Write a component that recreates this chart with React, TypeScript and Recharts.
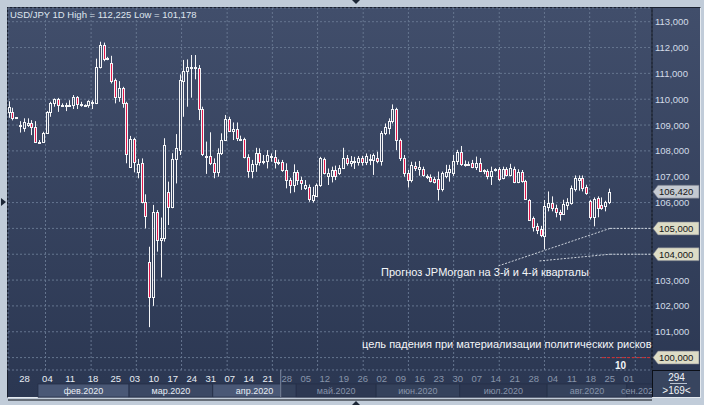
import {
  Bar,
  CartesianGrid,
  ComposedChart,
  ReferenceArea,
  ReferenceLine,
  XAxis,
  YAxis,
} from "recharts";

// daily candles, USD/JPY (index 1 = first visible bar)
const OPEN = [
  109.5, 109.49, 109.29, 108.95, 108.89, 109.02, 109.09, 108.91, 108.35, 108.36,
  108.71, 109.49, 109.84, 110.0, 109.78, 109.77, 109.77, 109.78, 110.09, 109.76,
  109.78, 109.78, 109.9, 109.84, 111.23, 112.09, 111.57, 111.42, 110.74, 110.1,
  110.42, 109.84, 107.36, 108.45, 107.2, 107.52, 106.01, 103.71, 102.36, 105.62,
  104.56, 104.64, 106.42, 105.84, 107.69, 108.03, 110.7, 111.1, 111.22, 111.24,
  111.19, 109.61, 107.77, 107.8, 107.52, 107.17, 107.91, 108.42, 109.23, 108.77,
  108.85, 108.46, 108.45, 107.77, 107.22, 107.48, 107.93, 107.58, 107.61, 107.79,
  107.75, 107.56, 107.56, 107.26, 106.87, 106.68, 107.17, 106.87, 106.58, 106.61,
  106.1, 106.27, 106.68, 107.68, 107.04, 107.04, 107.25, 107.13, 107.35, 107.71,
  107.52, 107.6, 107.58, 107.71, 107.58, 107.69, 107.65, 107.74, 107.61, 108.7,
  108.9, 109.15, 109.62, 108.42, 107.74, 107.13, 106.87, 107.43, 107.3, 107.3,
  107.01, 107.0, 106.91, 106.9, 106.52, 107.03, 107.2, 107.14, 107.59, 107.95,
  107.5, 107.51, 107.52, 107.37, 107.52, 107.24, 107.24, 107.03, 107.28, 107.29,
  106.97, 107.29, 107.07, 107.29, 106.81, 107.2, 106.85, 106.08, 105.4, 105.1,
  104.97, 104.71, 105.81, 105.98, 105.79, 105.63, 105.56, 105.92, 106.0, 106.54,
  106.86, 106.95, 106.59, 106.07, 105.43, 106.17, 105.89, 105.85, 106.02,
];
const HIGH = [
  109.92, 109.67, 109.31, 109.15, 109.26, 109.26, 109.19, 109.15, 108.42, 108.74,
  109.54, 109.9, 110.03, 110.05, 109.84, 109.86, 109.96, 110.16, 110.12, 109.9,
  109.8, 109.96, 109.96, 111.57, 112.225, 112.19, 111.64, 111.68, 110.8, 110.7,
  110.48, 109.9, 108.58, 108.51, 107.69, 107.71, 106.32, 104.29, 105.91, 105.71,
  105.42, 108.49, 106.81, 107.91, 108.65, 110.96, 111.52, 111.54, 111.71, 111.71,
  111.32, 109.71, 108.36, 108.72, 107.71, 108.1, 108.68, 109.39, 109.32, 109.1,
  109.1, 108.59, 108.51, 107.87, 107.65, 108.12, 108.1, 107.84, 108.03, 107.9,
  108.03, 107.67, 107.65, 107.52, 106.96, 107.48, 107.26, 107.0, 106.87, 106.7,
  106.61, 106.74, 107.77, 107.74, 107.32, 107.39, 107.43, 107.45, 108.12, 107.84,
  107.8, 107.77, 107.8, 107.81, 107.9, 107.87, 107.9, 107.97, 108.77, 109.06,
  109.26, 109.8, 109.67, 108.48, 107.84, 107.26, 107.58, 107.58, 107.61, 107.39,
  107.09, 107.09, 107.0, 107.2, 107.2, 107.46, 107.46, 107.85, 108.04, 108.19,
  107.63, 107.59, 107.65, 107.78, 107.72, 107.29, 107.29, 107.39, 107.33, 107.37,
  107.39, 107.37, 107.5, 107.39, 107.29, 107.26, 106.88, 106.13, 105.46, 105.2,
  105.1, 106.1, 106.43, 106.24, 105.92, 105.72, 106.11, 106.17, 106.66, 107.05,
  107.05, 107.05, 106.69, 106.11, 106.2, 106.24, 106.2, 106.07, 106.54,
];
const LOW = [
  109.28, 109.18, 109.27, 108.71, 108.74, 108.93, 108.61, 108.33, 108.31, 108.31,
  108.67, 109.32, 109.71, 109.51, 109.71, 109.54, 109.71, 109.62, 109.62, 109.71,
  109.76, 109.67, 109.62, 109.81, 111.19, 111.47, 111.51, 110.61, 109.84, 109.9,
  109.67, 107.52, 107.35, 107.17, 106.94, 105.97, 105.0, 101.178, 102.0, 104.1,
  103.1, 104.49, 105.13, 105.78, 106.74, 107.84, 109.32, 109.71, 110.06, 110.77,
  109.19, 107.8, 107.11, 107.45, 106.94, 107.0, 107.84, 108.38, 108.74, 108.42,
  108.38, 108.38, 107.71, 106.96, 106.94, 107.19, 107.43, 107.48, 107.32, 107.58,
  107.32, 107.45, 107.19, 106.55, 106.36, 106.4, 106.68, 106.49, 106.49, 106.03,
  106.0, 106.23, 106.61, 107.09, 106.68, 106.78, 106.87, 107.07, 107.3, 107.43,
  107.39, 107.3, 107.43, 107.43, 107.45, 107.45, 107.07, 107.52, 107.43, 108.61,
  108.64, 109.06, 108.03, 107.61, 107.0, 106.58, 106.78, 107.22, 107.04, 107.0,
  106.91, 106.78, 106.74, 106.08, 106.43, 106.94, 106.81, 107.03, 107.46, 107.42,
  107.39, 107.42, 107.33, 107.26, 107.2, 107.1, 106.9, 106.68, 107.2, 106.84,
  106.9, 107.01, 107.01, 106.75, 106.75, 106.77, 106.1, 105.3, 104.88, 104.78,
  104.66, 104.19, 105.66, 105.66, 105.43, 105.3, 105.53, 105.72, 105.92, 106.43,
  106.46, 106.43, 106.3, 105.34, 105.08, 105.43, 105.72, 105.66, 105.94,
];
const CLOSE = [
  109.7, 109.29, 109.3, 109.02, 109.1, 109.09, 108.91, 108.35, 108.36, 108.68,
  109.49, 109.84, 110.0, 109.78, 109.79, 109.75, 109.79, 110.09, 109.8, 109.8,
  109.79, 109.93, 109.91, 111.23, 112.09, 111.57, 111.58, 110.7, 110.09, 110.42,
  109.84, 107.87, 108.45, 107.56, 107.49, 106.01, 105.49, 102.36, 105.62, 104.55,
  104.64, 108.23, 105.84, 107.69, 108.1, 110.74, 111.09, 111.23, 111.24, 111.23,
  109.61, 107.88, 107.79, 107.52, 107.17, 107.91, 108.42, 109.23, 108.77, 108.85,
  108.48, 108.44, 107.77, 107.22, 107.48, 107.93, 107.58, 107.59, 107.84, 107.77,
  107.58, 107.57, 107.26, 106.87, 106.68, 107.17, 106.87, 106.74, 106.68, 106.14,
  106.29, 106.68, 107.71, 107.13, 107.13, 107.26, 107.04, 107.35, 107.71, 107.52,
  107.6, 107.61, 107.74, 107.56, 107.8, 107.68, 107.84, 107.61, 108.7, 108.94,
  109.15, 109.64, 108.42, 107.74, 107.13, 106.87, 107.45, 107.32, 107.39, 107.07,
  107.0, 106.83, 106.78, 106.52, 107.14, 107.2, 107.29, 107.59, 107.95, 107.5,
  107.51, 107.5, 107.39, 107.52, 107.24, 107.25, 107.01, 107.24, 107.29, 106.9,
  107.29, 107.07, 107.33, 106.81, 107.2, 106.85, 106.13, 105.33, 105.05, 104.94,
  104.75, 105.87, 105.98, 105.79, 105.63, 105.56, 105.94, 106.02, 106.56, 106.95,
  106.95, 106.56, 106.37, 105.43, 106.15, 105.79, 105.79, 106.02, 106.42,
];

const PRICE_TICKS = [100, 101, 102, 103, 104, 105, 106, 107, 108, 109, 110, 111, 112, 113];
const LAST_PRICE = 106.42;
const BADGE_LEVELS = [105, 104, 100];

// bar index of each weekly date label on the bottom axis
const DAY_TICKS = [
  5, 11, 17, 23, 29, 34, 39, 44, 49, 54, 59, 64, 69, 74, 79, 84,
  89, 94, 99, 104, 109, 114, 119, 124, 129, 134, 139, 144, 149, 154, 159, 164,
];
const DAY_LABELS = [
  "28", "04", "11", "18", "25", "03", "10", "17", "24", "31", "07", "14", "21", "28", "05", "12",
  "19", "26", "02", "09", "16", "23", "30", "07", "14", "21", "28", "04", "11", "18", "25", "01",
];
const GRID_X = [
  4.6, 10.5, 16.5, 22.5, 28.4, 34.4, 40.4, 46.3, 52.3, 58.3, 64.2, 70.2, 76.2, 82.1,
  88.1, 94.1, 100.0, 106.0, 112.0, 117.9, 123.9, 129.9, 135.8, 141.8, 147.8, 153.7, 159.7, 165.7,
];
const MONTH_NAMES = ["фев.2020", "мар.2020", "апр.2020", "май.2020", "июн.2020", "июл.2020", "авг.2020", "сен.2020"];
const MONTH_STARTS = [8.5, 32.5, 54.5, 76.5, 97.5, 119.5, 142.5, 163.5];

const X_DOMAIN: [number, number] = [0.63, 170.1];
const Y_DOMAIN: [number, number] = [99.52, 113.53];
const DIM_FROM = 72.4; // axis labels right of here are greyed out
const ROW_SPLIT = 98.98; // day row / month row boundary (below the price domain)
const ROW_BOTTOM = 98.47;

const CHART_W = 704;
const CHART_H = 405;
const MARGIN = { top: 8, right: 4, bottom: 8, left: 8 };
const X_AXIS_H = 27;
const AXIS_TOP = CHART_H - MARGIN.bottom - X_AXIS_H;

const WICK = "#f4f5f7";
const DOWN = "#e3184b";
const BRIGHT_TEXT = "#e8edf4";
const DIM_TEXT = "#8794aa";
const FORECAST = "#cdd3dc";

const rows = OPEN.map((o, k) => ({ i: k + 1, o, h: HIGH[k], l: LOW[k], c: CLOSE[k] }));

function Candle(props: any) {
  const { x, y, width, height, payload } = props;
  if (x == null || y == null || !payload) return null;
  const { o, h, l, c } = payload;
  const k = h > l ? height / (h - l) : 0;
  const py = (v: number) => y + (h - v) * k;
  const cx = Math.round(x + width / 2 - 0.5);
  const top = Math.round(py(Math.max(o, c)));
  let bot = Math.round(py(Math.min(o, c)));
  if (bot - top < 1) bot = top + 1;
  return (
    <g>
      <line x1={cx + 0.5} x2={cx + 0.5} y1={y} y2={top + 0.5} stroke={WICK} />
      <line x1={cx + 0.5} x2={cx + 0.5} y1={bot + 0.5} y2={y + height} stroke={WICK} />
      <rect
        x={cx - 0.5}
        y={top + 0.5}
        width={2}
        height={bot - top}
        fill={c >= o ? "none" : DOWN}
        stroke={WICK}
      />
    </g>
  );
}

function DayTick({ x, payload }: any) {
  const k = DAY_TICKS.indexOf(payload.value);
  return (
    <text
      x={x}
      y={AXIS_TOP + 12}
      textAnchor="middle"
      fontSize={9.5}
      fill={payload.value > DIM_FROM ? DIM_TEXT : BRIGHT_TEXT}
    >
      {DAY_LABELS[k]}
    </text>
  );
}

function PriceTick({ x, y, payload }: any) {
  const v: number = payload.value;
  const label = v.toFixed(3).replace(".", ",");
  const isLast = Math.abs(v - LAST_PRICE) < 1e-6;
  if (!isLast && !BADGE_LEVELS.includes(v)) {
    return (
      <text x={x + 3} y={y + 3.5} fontSize={9.5} fill="#d3dbe7">
        {label}
      </text>
    );
  }
  return (
    <g>
      <path
        d={`M${x + 1},${y} L${x + 6},${y - 6.5} H${x + 47} V${y + 6.5} H${x + 6} Z`}
        fill={isLast ? "#c4c9d1" : "#dddcc6"}
        stroke="#707684"
        strokeWidth={0.6}
      />
      <text x={x + 7} y={y + 3.5} fontSize={9.5} fill="#161616">
        {label}
      </text>
    </g>
  );
}

const fill = (m: number, dim: boolean) =>
  m % 2 === 0 ? (dim ? "#35425c" : "#4a5876") : dim ? "#2d3852" : "#3b4864";

export default function App() {
  const monthEnds = [...MONTH_STARTS.slice(1), X_DOMAIN[1]];
  return (
    <div
      style={{
        position: "absolute",
        left: 0,
        top: 0,
        width: CHART_W,
        height: CHART_H,
        background: "#c1ccd9",
        fontFamily: "'Liberation Sans', Arial, sans-serif",
        overflow: "hidden",
      }}
    >
      <div
        style={{
          position: "absolute",
          left: 7,
          top: 7,
          width: 694,
          height: 391,
          boxSizing: "border-box",
          borderTop: "1px solid #1a2130",
          borderLeft: "1px solid #1a2130",
          borderRight: "1px solid #e4e9ef",
          borderBottom: "1px solid #e4e9ef",
          background: "linear-gradient(to bottom, #414e6b, #2b3752)",
        }}
      />
      <div style={{ position: "absolute", left: 0, top: 0 }}>
        <ComposedChart width={CHART_W} height={CHART_H} data={rows} margin={MARGIN}>
          <XAxis xAxisId="grid" dataKey="i" type="number" domain={X_DOMAIN} ticks={GRID_X} allowDataOverflow hide />
          <YAxis yAxisId="grid" type="number" domain={Y_DOMAIN} ticks={PRICE_TICKS} allowDataOverflow hide />
          <CartesianGrid xAxisId="grid" yAxisId="grid" stroke="#65758f" strokeDasharray="2 2" />
          <XAxis
            xAxisId="x"
            dataKey="i"
            type="number"
            domain={X_DOMAIN}
            allowDataOverflow
            ticks={DAY_TICKS}
            interval={0}
            height={X_AXIS_H}
            tickLine={false}
            tickSize={0}
            tickMargin={0}
            axisLine={{ stroke: "#0c1018" }}
            tick={(p: any) => <DayTick {...p} />}
          />
          <YAxis
            yAxisId="y"
            orientation="right"
            type="number"
            domain={Y_DOMAIN}
            allowDataOverflow
            ticks={[...PRICE_TICKS, LAST_PRICE]}
            interval={0}
            width={48}
            tickLine={false}
            tickSize={0}
            tickMargin={0}
            axisLine={{ stroke: "#0c1018" }}
            tick={(p: any) => <PriceTick {...p} />}
          />

          {MONTH_NAMES.map((name, m) => {
            const s = MONTH_STARTS[m];
            const e = monthEnds[m];
            const parts = [];
            if (s < DIM_FROM)
              parts.push(
                <ReferenceArea key={`${name}-a`} xAxisId="x" yAxisId="y" x1={s} x2={Math.min(e, DIM_FROM)} y1={ROW_SPLIT} y2={ROW_BOTTOM} ifOverflow="visible" fill={fill(m, false)} fillOpacity={1} stroke="#27314a" />,
              );
            if (e > DIM_FROM)
              parts.push(
                <ReferenceArea key={`${name}-b`} xAxisId="x" yAxisId="y" x1={Math.max(s, DIM_FROM)} x2={e} y1={ROW_SPLIT} y2={ROW_BOTTOM} ifOverflow="visible" fill={fill(m, true)} fillOpacity={1} stroke="#27314a" />,
              );
            return parts;
          })}
          {MONTH_NAMES.map((name, m) => (
            <ReferenceArea
              key={`${name}-label`}
              xAxisId="x"
              yAxisId="y"
              x1={MONTH_STARTS[m]}
              x2={monthEnds[m]}
              y1={ROW_SPLIT}
              y2={ROW_BOTTOM}
              ifOverflow="visible"
              fill="none"
              stroke="none"
              label={{
                value: name,
                position: "center",
                fontSize: 9,
                fill: (MONTH_STARTS[m] + monthEnds[m]) / 2 > DIM_FROM ? DIM_TEXT : BRIGHT_TEXT,
              }}
            />
          ))}
          <ReferenceLine
            xAxisId="x"
            yAxisId="y"
            segment={[{ x: DIM_FROM, y: Y_DOMAIN[0] }, { x: DIM_FROM, y: ROW_BOTTOM }]}
            stroke="#7f8ba2"
            ifOverflow="visible"
          />

          <Bar
            xAxisId="x"
            yAxisId="y"
            dataKey={(d: any) => [d.l, d.h]}
            barSize={3}
            isAnimationActive={false}
            shape={(p: any) => <Candle {...p} />}
          />

          {/* JPMorgan Q3 / Q4 targets */}
          <ReferenceLine xAxisId="x" yAxisId="y" segment={[{ x: 129.7, y: 103.55 }, { x: 159.05, y: 105 }]} stroke={FORECAST} strokeDasharray="2 1.5" />
          <ReferenceLine xAxisId="x" yAxisId="y" segment={[{ x: 159.05, y: 105 }, { x: 170.1, y: 105 }]} stroke={FORECAST} strokeDasharray="2 1.5" />
          <ReferenceLine xAxisId="x" yAxisId="y" segment={[{ x: 140.5, y: 103.74 }, { x: 159.05, y: 104 }]} stroke={FORECAST} strokeDasharray="2 1.5" />
          <ReferenceLine xAxisId="x" yAxisId="y" segment={[{ x: 159.05, y: 104 }, { x: 170.1, y: 104 }]} stroke={FORECAST} strokeDasharray="2 1.5" />
          {/* political-risk downside target */}
          <ReferenceLine xAxisId="x" yAxisId="y" segment={[{ x: 156.9, y: 100 }, { x: 170.1, y: 100 }]} stroke="#d82a2a" strokeDasharray="3 2" />
        </ComposedChart>
      </div>

      <div style={{ position: "absolute", left: 652, top: AXIS_TOP, width: 1, height: X_AXIS_H, background: "#0c1018" }} />
      <div style={{ position: "absolute", left: 653, top: AXIS_TOP, width: 47, height: X_AXIS_H, background: "#38455f", borderTop: "1px solid #0c1018", boxSizing: "border-box" }} />
      <div style={{ position: "absolute", left: 653, top: 372, width: 47, textAlign: "center", fontSize: 10, lineHeight: "11px", color: "#f0f3f7" }}>294</div>
      <div style={{ position: "absolute", left: 670, top: 383, width: 17, height: 1, background: "#b9c2d0" }} />
      <div style={{ position: "absolute", left: 653, top: 385, width: 47, textAlign: "center", fontSize: 10, lineHeight: "11px", color: "#f0f3f7" }}>{">169<"}</div>

      <div style={{ position: "absolute", left: 10, top: 9, fontSize: 9.5, lineHeight: "11px", color: "#dfe5ee", whiteSpace: "nowrap" }}>
        USD/JPY 1D High = 112,225 Low = 101,178
      </div>
      <div style={{ position: "absolute", left: 381, top: 266, fontSize: 11, lineHeight: "13px", color: "#f4f6f9", whiteSpace: "nowrap" }}>
        Прогноз JPMorgan на 3-й и 4-й кварталы
      </div>
      <div style={{ position: "absolute", left: 362, top: 338, fontSize: 11, lineHeight: "13px", color: "#f4f6f9", whiteSpace: "nowrap" }}>
        цель падения при материализации политических рисков
      </div>
      <div style={{ position: "absolute", left: 615, top: 360, fontSize: 10, fontWeight: "bold", lineHeight: "12px", color: "#f4f6f9" }}>10</div>

      <div style={{ position: "absolute", left: 352, top: 0, width: 0, height: 0, borderLeft: "4px solid transparent", borderRight: "4px solid transparent", borderTop: "4px solid #1c2636" }} />
      <div style={{ position: "absolute", left: 352, top: 401, width: 0, height: 0, borderLeft: "4px solid transparent", borderRight: "4px solid transparent", borderBottom: "4px solid #1c2636" }} />
      <div style={{ position: "absolute", left: 1, top: 198, width: 0, height: 0, borderTop: "4px solid transparent", borderBottom: "4px solid transparent", borderLeft: "5px solid #1c2636" }} />
    </div>
  );
}
